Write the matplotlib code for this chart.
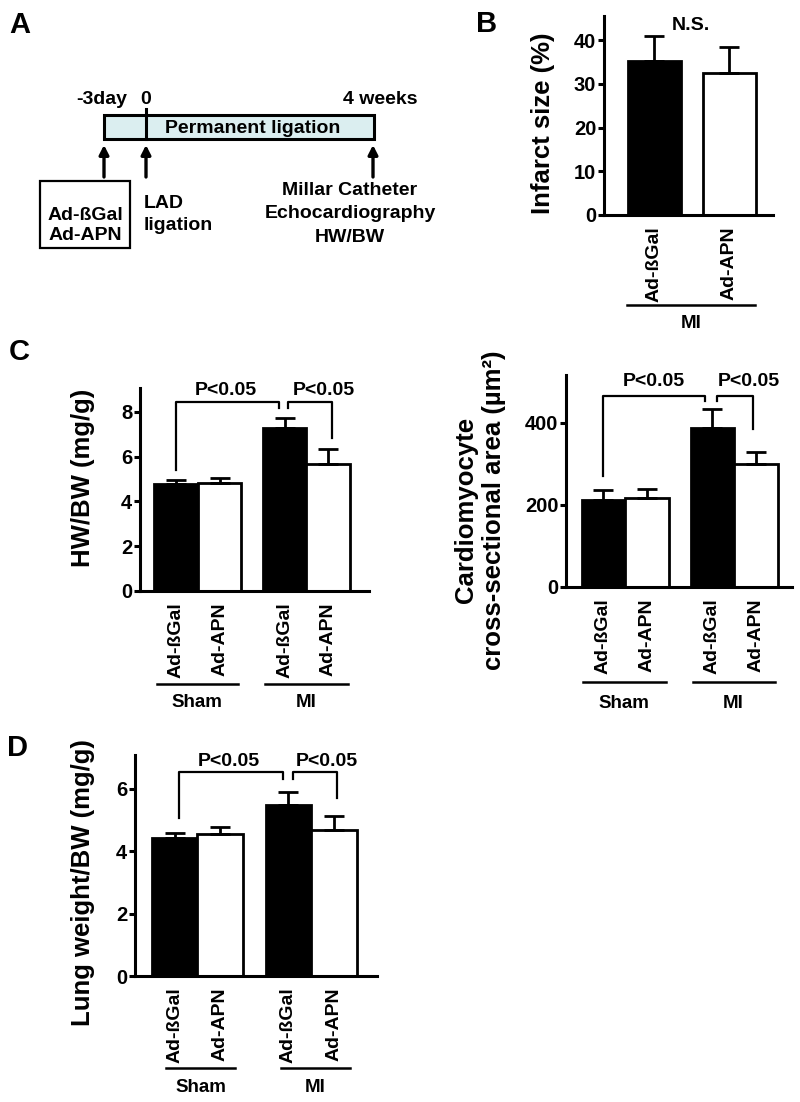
import matplotlib
matplotlib.use('Agg')
import matplotlib.pyplot as plt
from matplotlib.patches import Rectangle
import matplotlib.transforms as mtrans
import numpy as np

plt.rcParams['font.family'] = ['Liberation Sans', 'DejaVu Sans']
plt.rcParams['font.weight'] = 'bold'

# ---------------- data ----------------
groups = ['Sham', 'MI']
treatments = ['Ad-ßGal', 'Ad-APN']
tick_labels4 = ['Ad-ßGal', 'Ad-APN', 'Ad-ßGal', 'Ad-APN']

infarct_mean = [35.2, 32.4]
infarct_sem = [5.7, 6.0]
infarct_yticks = [0, 10, 20, 30, 40]

hwbw_mean = [4.77, 4.81, 7.30, 5.68]
hwbw_sem = [0.19, 0.23, 0.42, 0.67]
hwbw_yticks = [0, 2, 4, 6, 8]

csa_mean = [212, 216, 387, 300]
csa_sem = [25, 23, 47, 30]
csa_yticks = [0, 200, 400]

lung_mean = [4.42, 4.56, 5.49, 4.68]
lung_sem = [0.16, 0.21, 0.42, 0.45]
lung_yticks = [0, 2, 4, 6]

bar_colors2 = ['black', 'white']
bar_colors4 = ['black', 'white', 'black', 'white']
pos2 = [0, 1]
pos4 = [0, 1, 2.5, 3.5]

# ---------------- layout ----------------
W, H = 800, 1102
fig = plt.figure(figsize=(W / 100, H / 100), dpi=100)

TICK_FS = 14.5
XT_FS = 14
LAB_FS = 18.5
P_FS = 14
GRP_FS = 13.5
LET_FS = 21


def px_axes(x0, x1, yb, yt):
    return fig.add_axes([x0 / W, 1 - yb / H, (x1 - x0) / W, (yb - yt) / H])


def yfrac(py, yb, yt):
    return (yb - py) / (yb - yt)


def style(ax, yticks, ylim, xlim, xlabels, pos):
    for s in ['top', 'right']:
        ax.spines[s].set_visible(False)
    for s in ['left', 'bottom']:
        ax.spines[s].set_linewidth(2.2)
    ax.set_ylim(*ylim)
    ax.set_xlim(*xlim)
    ax.set_yticks(yticks)
    ax.set_yticklabels([str(v) for v in yticks], fontsize=TICK_FS, fontweight='bold')
    ax.tick_params(axis='y', length=4, width=2.2, pad=1.5)
    ax.set_xticks(pos)
    ax.set_xticklabels(xlabels, rotation=90, fontsize=XT_FS, fontweight='bold')
    ax.tick_params(axis='x', length=0, pad=8)
    ax.patch.set_alpha(0)


def bars(ax, pos, means, sems, colors, width):
    ax.bar(pos, means, width=width, color=colors, edgecolor='black',
           linewidth=2.0, zorder=2)
    ax.errorbar(pos, means, yerr=[np.zeros(len(means)), sems], fmt='none',
                ecolor='black', elinewidth=2.0, capsize=7, capthick=2.0, zorder=3)


def bracket(ax, x1, x2, ytop, y1, y2):
    ax.plot([x1, x1, x2, x2], [y1, ytop, ytop, y2], color='black', lw=1.6,
            clip_on=False, zorder=4)


def group_line(ax, x1, x2, yf, label, tyf):
    tr = mtrans.blended_transform_factory(ax.transData, ax.transAxes)
    ax.plot([x1, x2], [yf, yf], color='black', lw=1.8, transform=tr, clip_on=False)
    ax.text((x1 + x2) / 2, tyf, label, transform=tr, ha='center', va='center',
            fontsize=GRP_FS, fontweight='bold')


def ylabel(ax, text, xf, yf):
    ax.text(xf, yf, text, transform=ax.transAxes, rotation=90, ha='center',
            va='center', fontsize=LAB_FS, fontweight='bold', multialignment='center',
            linespacing=1.2)


# ---------------- Panel A (schematic) ----------------
ov = fig.add_axes([0, 0, 1, 1])
ov.set_xlim(0, W)
ov.set_ylim(H, 0)
ov.axis('off')

ov.add_patch(Rectangle((104, 115), 270, 24, facecolor='#dbeef0', edgecolor='black',
                       linewidth=2.2, zorder=2))
ov.plot([146, 146], [109, 139], color='black', lw=2.2, zorder=3)
for ax_x in [104, 146, 373]:
    ov.annotate('', xy=(ax_x, 145), xytext=(ax_x, 177),
                arrowprops=dict(arrowstyle='-|>,head_length=0.55,head_width=0.28',
                                lw=2.4, color='black', shrinkA=0, shrinkB=0))
ov.add_patch(Rectangle((40, 181), 90, 67, facecolor='white', edgecolor='black',
                       linewidth=1.6, zorder=2))
A_FS = 14
ov.text(102, 104, '-3day', ha='center', va='baseline', fontsize=A_FS)
ov.text(146, 104, '0', ha='center', va='baseline', fontsize=A_FS)
ov.text(380, 104, '4 weeks', ha='center', va='baseline', fontsize=A_FS)
ov.text(253, 133, 'Permanent ligation', ha='center', va='baseline', fontsize=A_FS, zorder=4)
ov.text(85, 220, 'Ad-ßGal', ha='center', va='baseline', fontsize=A_FS, zorder=4)
ov.text(85, 240, 'Ad-APN', ha='center', va='baseline', fontsize=A_FS, zorder=4)
ov.text(144, 208, 'LAD', ha='left', va='baseline', fontsize=A_FS)
ov.text(144, 230, 'ligation', ha='left', va='baseline', fontsize=A_FS)
ov.text(350, 195, 'Millar Catheter', ha='center', va='baseline', fontsize=A_FS)
ov.text(350, 218, 'Echocardiography', ha='center', va='baseline', fontsize=A_FS)
ov.text(350, 242, 'HW/BW', ha='center', va='baseline', fontsize=A_FS)

# panel letters
ov.text(9, 25, 'A', ha='left', va='center', fontsize=LET_FS)
ov.text(476, 24, 'B', ha='left', va='center', fontsize=LET_FS)
ov.text(9, 352, 'C', ha='left', va='center', fontsize=LET_FS)
ov.text(7, 748, 'D', ha='left', va='center', fontsize=LET_FS)

# ---------------- Panel B ----------------
yb, yt = 215, 16
axB = px_axes(604, 773, yb, yt)
style(axB, infarct_yticks, (0, 45.5), (-0.673, 1.58), treatments, pos2)
bars(axB, pos2, infarct_mean, infarct_sem, bar_colors2, 0.7)
axB.text(0.49, 43.4, 'N.S.', ha='center', va='center', fontsize=P_FS)
group_line(axB, -0.37, 1.34, yfrac(305, yb, yt), 'MI', yfrac(323, yb, yt))
ylabel(axB, 'Infarct size (%)', (543 - 604) / (773 - 604), yfrac(123, yb, yt))

# ---------------- Panel C left ----------------
yb, yt = 591, 388
axC1 = px_axes(140, 369, yb, yt)
style(axC1, hwbw_yticks, (0, 9.07), (-0.83, 4.44), tick_labels4, pos4)
bars(axC1, pos4, hwbw_mean, hwbw_sem, bar_colors4, 1.0)
bracket(axC1, 0.0, 2.37, 8.45, 5.41, 8.18)
bracket(axC1, 2.57, 3.59, 8.45, 8.18, 6.84)
axC1.text(1.15, 8.98, 'P<0.05', ha='center', va='center', fontsize=P_FS)
axC1.text(3.40, 8.98, 'P<0.05', ha='center', va='center', fontsize=P_FS)
group_line(axC1, -0.45, 1.43, yfrac(684, yb, yt), 'Sham', yfrac(703, yb, yt))
group_line(axC1, 2.05, 3.95, yfrac(684, yb, yt), 'MI', yfrac(703, yb, yt))
ylabel(axC1, 'HW/BW (mg/g)', (83 - 140) / (369 - 140), yfrac(478, yb, yt))

# ---------------- Panel C right ----------------
yb, yt = 587, 375
axC2 = px_axes(566, 792, yb, yt)
style(axC2, csa_yticks, (0, 517), (-0.86, 4.33), tick_labels4, pos4)
bars(axC2, pos4, csa_mean, csa_sem, bar_colors4, 1.0)
bracket(axC2, 0.0, 2.33, 466, 271, 454)
bracket(axC2, 2.61, 3.43, 466, 454, 385)
axC2.text(1.16, 500, 'P<0.05', ha='center', va='center', fontsize=P_FS)
axC2.text(3.34, 500, 'P<0.05', ha='center', va='center', fontsize=P_FS)
group_line(axC2, -0.47, 1.43, yfrac(682, yb, yt), 'Sham', yfrac(703, yb, yt))
group_line(axC2, 2.05, 3.93, yfrac(682, yb, yt), 'MI', yfrac(703, yb, yt))
ylabel(axC2, 'Cardiomyocyte\ncross-sectional area (µm²)', (480 - 566) / (792 - 566),
       yfrac(510, yb, yt))

# ---------------- Panel D ----------------
yb, yt = 976, 755
axD = px_axes(135, 377, yb, yt)
style(axD, lung_yticks, (0, 7.09), (-0.87, 4.45), tick_labels4, pos4)
bars(axD, pos4, lung_mean, lung_sem, bar_colors4, 1.0)
bracket(axD, 0.1, 2.38, 6.53, 5.07, 6.32)
bracket(axD, 2.60, 3.57, 6.53, 6.32, 5.71)
axD.text(1.20, 6.87, 'P<0.05', ha='center', va='center', fontsize=P_FS)
axD.text(3.35, 6.87, 'P<0.05', ha='center', va='center', fontsize=P_FS)
group_line(axD, -0.19, 1.33, yfrac(1068, yb, yt), 'Sham', yfrac(1088, yb, yt))
group_line(axD, 2.34, 3.86, yfrac(1068, yb, yt), 'MI', yfrac(1088, yb, yt))
ylabel(axD, 'Lung weight/BW (mg/g)', (83 - 135) / (377 - 135), yfrac(883, yb, yt))

fig.savefig('out.png', dpi=100)
